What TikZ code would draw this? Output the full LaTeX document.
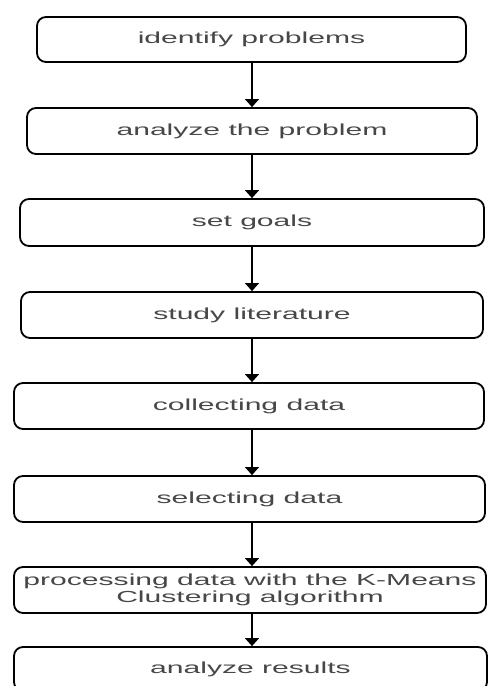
\documentclass[tikz,border=0pt]{standalone}
\usepackage{fontspec}
\newfontfamily\stepfont[FakeStretch=1.88]{Liberation Sans}
\usetikzlibrary{arrows.meta}
\begin{document}
\begin{tikzpicture}[x=1pt,y=-1pt,
  stepbox/.style={draw=black, line width=1.8pt, rounded corners=9pt, fill=white,
    text=black!72, font=\stepfont\fontsize{16}{16.5}\selectfont, align=center, inner sep=0pt},
  flow/.style={line width=1.3pt, -{Triangle[width=14pt,length=8pt]}}]
\useasboundingbox (0,0) rectangle (488,686);
\clip (0,0) rectangle (488,686);
% process steps
\node[stepbox, minimum width=429pt, minimum height=45pt] (s1) at (251.5,39.5) {identify problems};
\node[stepbox, minimum width=450pt, minimum height=46pt] (s2) at (252,131) {analyze the problem};
\node[stepbox, minimum width=464pt, minimum height=47pt] (s3) at (252,222.5) {set goals};
\node[stepbox, minimum width=462pt, minimum height=46pt] (s4) at (252,315) {study literature};
\node[stepbox, minimum width=470pt, minimum height=46pt] (s5) at (249,406) {collecting data};
\node[stepbox, minimum width=471pt, minimum height=46pt] (s6) at (249.5,499) {selecting data};
\node[stepbox, minimum width=472pt, minimum height=46pt] (s7) at (250,590) {processing data with the K-Means\\Clustering algorithm};
\node[stepbox, minimum width=473pt, minimum height=44pt] (s8) at (250.5,669) {analyze results};
% connectors along one column
\coordinate (ax) at (252,0);
\draw[flow] (s1.south -| ax) -- (s2.north -| ax);
\draw[flow] (s2.south -| ax) -- (s3.north -| ax);
\draw[flow] (s3.south -| ax) -- (s4.north -| ax);
\draw[flow] (s4.south -| ax) -- (s5.north -| ax);
\draw[flow] (s5.south -| ax) -- (s6.north -| ax);
\draw[flow] (s6.south -| ax) -- (s7.north -| ax);
\draw[flow] (s7.south -| ax) -- (s8.north -| ax);
\end{tikzpicture}
\end{document}
